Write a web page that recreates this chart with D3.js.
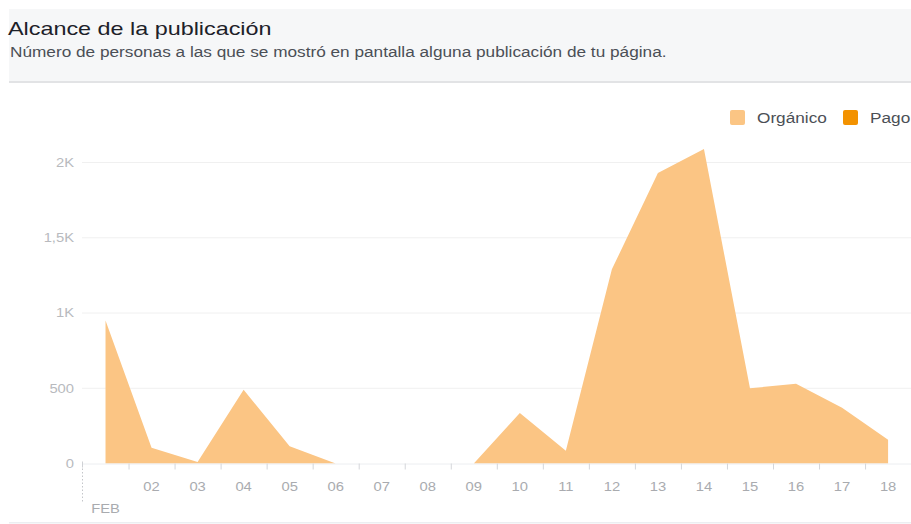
<!DOCTYPE html>
<html>
<head>
<meta charset="utf-8">
<script src="https://cdn.jsdelivr.net/npm/d3@7"></script>
<style>
  html, body { margin: 0; padding: 0; background: #ffffff; }
  svg { display: block; font-family: "Liberation Sans", Arial, sans-serif; }
</style>
</head>
<body>
<svg id="chart" width="911" height="524"></svg>
<script>
// ---- Data ----
const days = ["01","02","03","04","05","06","07","08","09","10","11","12","13","14","15","16","17","18"];
const organico = [950, 105, 10, 490, 115, 0, 0, 0, 0, 335, 85, 1290, 1930, 2090, 500, 530, 370, 158];
const pago     = [0, 0, 0, 0, 0, 0, 0, 0, 0, 0, 0, 0, 0, 0, 0, 0, 0, 0];
const seriesNames = ["Orgánico", "Pago"];
const yTickValues = [0, 500, 1000, 1500, 2000];
const yTickLabels = ["0", "500", "1K", "1,5K", "2K"];
const monthLabel = "FEB";
const titleText = "Alcance de la publicación";
const subtitleText = "Número de personas a las que se mostró en pantalla alguna publicación de tu página.";

// ---- Style ----
const colors = { "Orgánico": "#fbc584", "Pago": "#f39200" };
const SX = 1.23; // horizontal text stretch seen in the reference

const svg = d3.select("#chart");

// Header panel
svg.append("rect").attr("x", 9).attr("y", 9).attr("width", 902).attr("height", 72)
  .attr("fill", "#f6f7f8");
svg.append("rect").attr("x", 9).attr("y", 81).attr("width", 902).attr("height", 2)
  .attr("fill", "#e2e3e5");

function stretchedText(g, x, y, txt, opts) {
  return g.append("text")
    .attr("transform", `translate(${x},${y}) scale(${SX},1)`)
    .attr("text-anchor", opts.anchor || "start")
    .attr("font-size", opts.size)
    .attr("fill", opts.fill)
    .text(txt);
}

stretchedText(svg, 8, 35, titleText, { size: 19, fill: "#1d2129" });
stretchedText(svg, 10, 57, subtitleText, { size: 14, fill: "#4b4f56" });

// ---- Scales ----
const x = d3.scaleBand().domain(days).range([82.5, 911.1]).padding(0);
const xc = d => x(d) + x.bandwidth() / 2;
const y = d3.scaleLinear().domain([0, 2000]).range([463.5, 162.5]);

// Gridlines
svg.append("g").selectAll("line").data(yTickValues.slice(1)).join("line")
  .attr("x1", 82).attr("x2", 911)
  .attr("y1", d => y(d)).attr("y2", d => y(d))
  .attr("stroke", "#f0f0f0").attr("stroke-width", 1);

// Y axis labels
const yAxis = d3.axisLeft(y).tickValues(yTickValues)
  .tickFormat((d, i) => yTickLabels[i]).tickSize(0).tickPadding(0);
const yg = svg.append("g").attr("transform", "translate(74,0)").call(yAxis);
yg.select(".domain").remove();
yg.selectAll("text")
  .attr("x", 0)
  .attr("transform", `scale(${SX},1)`)
  .attr("font-family", "Liberation Sans, Arial, sans-serif")
  .attr("font-size", 12).attr("fill", "#b8babe");

// ---- Stacked area ----
const table = days.map((d, i) => ({ day: d, "Orgánico": organico[i], "Pago": pago[i] }));
const stack = d3.stack().keys(seriesNames)(table);
const area = d3.area()
  .x(d => xc(d.data.day))
  .y0(d => y(d[0]))
  .y1(d => y(d[1]));
svg.append("g").selectAll("path").data(stack).join("path")
  .attr("d", area)
  .attr("fill", s => colors[s.key]);

// X baseline
svg.append("line").attr("x1", 82).attr("x2", 911)
  .attr("y1", y(0) + 0.5).attr("y2", y(0) + 0.5)
  .attr("stroke", "#eceef1").attr("stroke-width", 1);

// Small y tick at 0 & dotted month separator
svg.append("line").attr("x1", 82.5).attr("x2", 82.5)
  .attr("y1", y(0) - 2).attr("y2", y(0) + 4)
  .attr("stroke", "#cfd1d5");
svg.append("line").attr("x1", 82.5).attr("x2", 82.5)
  .attr("y1", y(0) + 5).attr("y2", 502)
  .attr("stroke", "#c4c6ca").attr("stroke-dasharray", "1.5,2");

// X ticks between days
svg.append("g").selectAll("line").data(days.slice(1)).join("line")
  .attr("x1", d => x(d) + 0.5).attr("x2", d => x(d) + 0.5)
  .attr("y1", y(0)).attr("y2", y(0) + 6)
  .attr("stroke", "#d4d6da");

// X labels
const xAxis = d3.axisBottom(x).tickValues(days.slice(1)).tickSize(0).tickPadding(0);
const xg = svg.append("g").attr("transform", `translate(0,${y(0)})`).call(xAxis);
xg.select(".domain").remove();
xg.selectAll("text")
  .attr("y", 28).attr("dy", null)
  .attr("transform", `scale(${SX},1)`)
  .attr("font-family", "Liberation Sans, Arial, sans-serif")
  .attr("font-size", 12).attr("fill", "#a9abaf");

stretchedText(svg, xc(days[0]), 513, monthLabel, { size: 12, fill: "#a9abaf", anchor: "middle" });

// Bottom border
svg.append("rect").attr("x", 9).attr("y", 522).attr("width", 902).attr("height", 1.5)
  .attr("fill", "#eceef1");

// ---- Legend ----
const legendPos = [730, 843];
const lg = svg.append("g").selectAll("g").data(seriesNames).join("g")
  .attr("transform", (d, i) => `translate(${legendPos[i]},110)`);
lg.append("rect").attr("width", 15).attr("height", 15).attr("rx", 2)
  .attr("fill", d => colors[d]);
lg.append("text")
  .attr("transform", `translate(27,12.5) scale(${SX},1)`)
  .attr("font-size", 14).attr("fill", "#4b4f56")
  .text(d => d);
</script>
</body>
</html>
